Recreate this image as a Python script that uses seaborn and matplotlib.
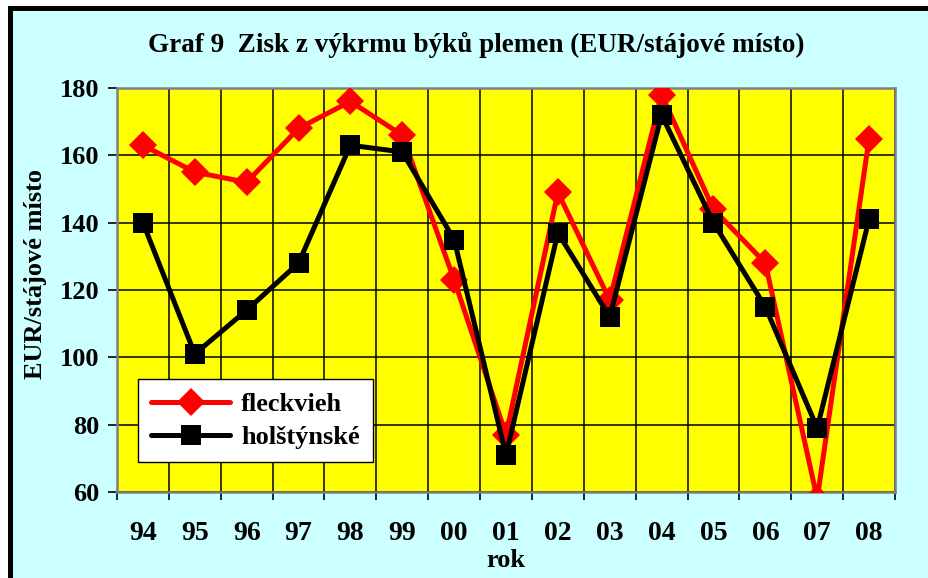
import numpy as np
import pandas as pd
import matplotlib
matplotlib.use("Agg")
import matplotlib.pyplot as plt
from matplotlib.patches import Rectangle
import seaborn as sns

# data
years = ['94', '95', '96', '97', '98', '99', '00', '01', '02', '03', '04', '05', '06', '07', '08']
fleckvieh = [163, 155, 152, 168, 176, 166, 123, 77, 149, 117, 178, 144, 128, 58, 165]
holstynske = [140, 101, 114, 128, 163, 161, 135, 71, 137, 112, 172, 140, 115, 79, 141]
series_names = ['fleckvieh', 'holštýnské']
y_ticks = [60, 80, 100, 120, 140, 160, 180]

sns.set_theme(style="white")
plt.rcParams['font.family'] = ['Liberation Serif', 'DejaVu Serif']
plt.rcParams['font.weight'] = 'bold'
for key in ['text.color', 'axes.labelcolor', 'xtick.color', 'ytick.color']:
    plt.rcParams[key] = 'black'

pos = np.arange(len(years))
df = pd.DataFrame({
    'pos': np.concatenate([pos, pos]),
    'value': fleckvieh + holstynske,
    'series': [series_names[0]] * len(years) + [series_names[1]] * len(years),
})

W, H = 929, 578
fig = plt.figure(figsize=(W / 100, H / 100), dpi=100, facecolor='white')

# cyan background with black frame (right/bottom edges cut off as in the scan)
fig.patches.append(Rectangle((10.5 / W, -0.05), 1.2, 1 - 8.5 / H + 0.05,
                             transform=fig.transFigure, facecolor='#CCFFFF',
                             edgecolor='black', linewidth=3.6, zorder=-5))

ax = fig.add_axes([117 / W, 1 - 492 / H, (895 - 117) / W, (492 - 88) / H])
ax.set_facecolor('#FFFF00')

sns.lineplot(data=df, x='pos', y='value', hue='series', style='series',
             palette={'fleckvieh': '#FF0000', 'holštýnské': '#000000'},
             markers={'fleckvieh': 'D', 'holštýnské': 's'}, dashes=False,
             linewidth=3.6, markersize=14, markeredgewidth=0, ax=ax, zorder=3)

# category boundaries as major ticks (grid), labels on minor ticks at centres
ax.set_xlim(-0.5, len(years) - 0.5)
ax.set_xticks(np.arange(-0.5, len(years)), labels=[])
ax.set_xticks(pos, labels=years, minor=True)
ax.set_ylim(60, 180)
ax.set_yticks(y_ticks)

ax.grid(True, which='major', color='black', linewidth=1.1)
ax.set_axisbelow(True)
for sp in ax.spines.values():
    sp.set_color('#808080')
    sp.set_linewidth(1.8)

ax.tick_params(axis='x', which='major', direction='out', length=6, width=1.2, color='black', bottom=True)
ax.tick_params(axis='x', which='minor', length=0, pad=21, labelsize=20)
ax.tick_params(axis='y', direction='out', length=6.5, width=1.2, color='black', left=True,
               pad=6, labelsize=19)
for lab in ax.get_xticklabels(minor=True) + ax.get_yticklabels():
    lab.set_fontweight('bold')

ax.set_xlabel('rok', fontsize=19, fontweight='bold', labelpad=2)
ax.set_ylabel('EUR/stájové místo', fontsize=19, fontweight='bold')
ax.yaxis.set_label_coords(-0.09, 0.54)

fig.text(0.5 * (148 + 805) / W, 1 - 45 / H,
         'Graf 9  Zisk z výkrmu býků plemen (EUR/stájové místo)',
         ha='center', va='center', fontsize=19.5, fontweight='bold')

leg = ax.legend(loc='lower left', bbox_to_anchor=((138 - 117) / (895 - 117), (492 - 462) / (492 - 88)),
                frameon=True, fancybox=False, edgecolor='black', facecolor='white', framealpha=1,
                handlelength=3.0, fontsize=19, borderpad=0.5, labelspacing=0.35,
                handletextpad=0.4, borderaxespad=0)
leg.get_frame().set_linewidth(1.0)
for t in leg.get_texts():
    t.set_fontweight('bold')

fig.savefig('out.png', dpi=100, facecolor=fig.get_facecolor())
